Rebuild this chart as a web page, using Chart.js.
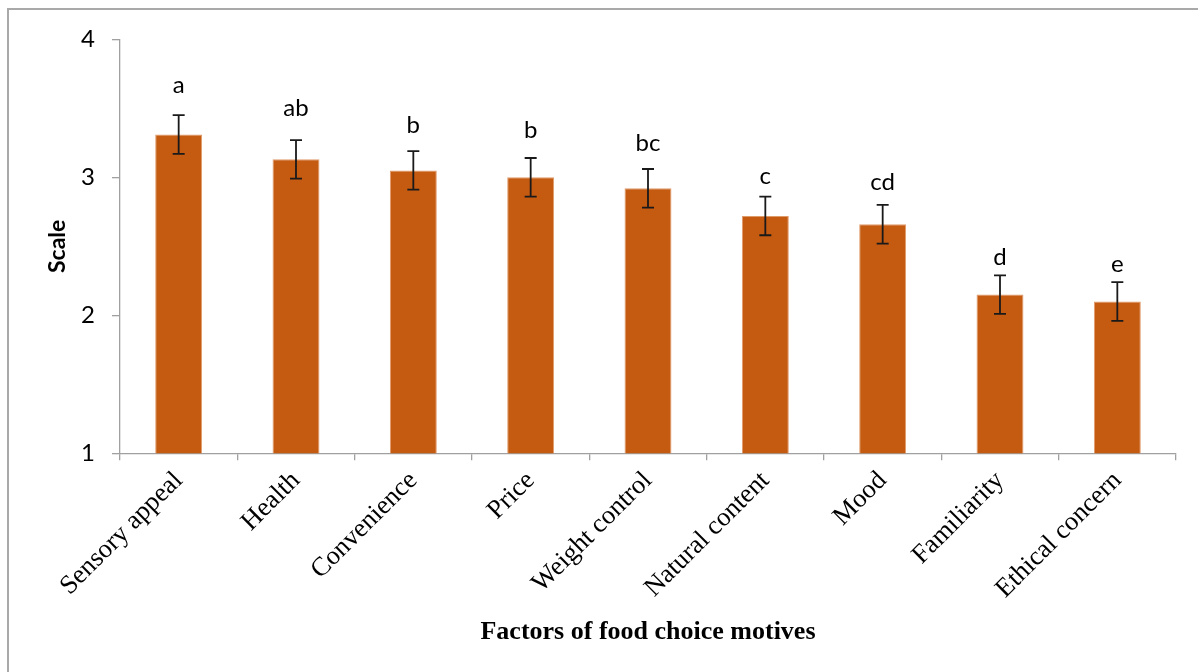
<!DOCTYPE html>
<html>
<head>
<meta charset="utf-8">
<title>Factors of food choice motives</title>
<script src="https://cdn.jsdelivr.net/npm/chart.js@4.4.1/dist/chart.umd.min.js"></script>
<style>
  html, body { margin: 0; padding: 0; background: #ffffff; }
  #wrap { position: relative; width: 1198px; height: 672px; }
</style>
</head>
<body>
<div id="wrap"><canvas id="motives" width="1198" height="672"></canvas></div>
<script>
// Food choice motive factors and their mean scale scores
const categories = ['Sensory appeal', 'Health', 'Convenience', 'Price', 'Weight control',
                    'Natural content', 'Mood', 'Familiarity', 'Ethical concern'];
const meanScores = [3.31, 3.13, 3.05, 3.00, 2.92, 2.72, 2.66, 2.15, 2.10];
const errorMargins = [0.14, 0.14, 0.14, 0.14, 0.14, 0.14, 0.14, 0.14, 0.14];
const groupLetters = ['a', 'ab', 'b', 'b', 'bc', 'c', 'cd', 'd', 'e'];
const yTicks = [1, 2, 3, 4];

const BAR_COLOR = '#c55a11';
const AXIS_COLOR = '#a0a0a0';

// Grey frame along the left and top edges
const framePlugin = {
  id: 'frame',
  beforeDraw(chart) {
    const ctx = chart.ctx;
    ctx.save();
    ctx.strokeStyle = '#a9a9a9';
    ctx.lineWidth = 2;
    ctx.beginPath();
    ctx.moveTo(8, chart.height);
    ctx.lineTo(8, 9);
    ctx.lineTo(chart.width, 9);
    ctx.stroke();
    ctx.restore();
  }
};

// Error bars with caps, plus significance letters above them
const errorBarPlugin = {
  id: 'errorBars',
  afterDatasetsDraw(chart, args, opts) {
    const ctx = chart.ctx;
    const y = chart.scales.y;
    const meta = chart.getDatasetMeta(0);
    ctx.save();
    meta.data.forEach((bar, i) => {
      const v = meanScores[i];
      const e = errorMargins[i];
      const top = y.getPixelForValue(v + e);
      const bot = y.getPixelForValue(v - e);
      const half = opts.capWidth / 2;
      ctx.strokeStyle = '#1a1a1a';
      ctx.lineWidth = 1.8;
      ctx.beginPath();
      ctx.moveTo(bar.x, top); ctx.lineTo(bar.x, bot);
      ctx.moveTo(bar.x - half, top); ctx.lineTo(bar.x + half, top);
      ctx.moveTo(bar.x - half, bot); ctx.lineTo(bar.x + half, bot);
      ctx.stroke();

      ctx.fillStyle = '#000000';
      ctx.font = '24px Lato';
      ctx.textAlign = 'center';
      ctx.textBaseline = 'alphabetic';
      ctx.fillText(groupLetters[i], bar.x, top - opts.letterGap[i]);
    });
    ctx.restore();
  }
};

new Chart(document.getElementById('motives'), {
  type: 'bar',
  data: {
    labels: categories,
    datasets: [{
      data: meanScores,
      backgroundColor: BAR_COLOR,
      borderColor: '#e09a6a',
      borderWidth: 1,
      barPercentage: 0.4,
      categoryPercentage: 1.0
    }]
  },
  options: {
    responsive: false,
    animation: false,
    events: [],
    layout: { padding: { left: 0, right: 22, top: 39.3, bottom: 0 } },
    plugins: {
      legend: { display: false },
      tooltip: { enabled: false },
      errorBars: { capWidth: 12, letterGap: [22, 24, 18, 20, 18, 13, 15, 10, 10] }
    },
    scales: {
      x: {
        offset: true,
        grid: {
          offset: true,
          drawOnChartArea: false,
          drawTicks: true,
          tickLength: 7,
          color: AXIS_COLOR,
          lineWidth: 1.3
        },
        border: { display: true, color: AXIS_COLOR, width: 1.3 },
        ticks: {
          minRotation: 45,
          maxRotation: 45,
          autoSkip: false,
          padding: 5,
          color: '#000000',
          font: { family: '"Liberation Serif", "Times New Roman", serif', size: 26.5 }
        },
        title: {
          display: true,
          text: 'Factors of food choice motives',
          color: '#000000',
          font: { family: '"Liberation Serif", "Times New Roman", serif', size: 26, weight: 'bold' },
          padding: { top: 0, bottom: 24 }
        },
        afterFit(scale) { scale.height = 672 - 453.3; }
      },
      y: {
        min: 1,
        max: 4,
        afterBuildTicks(scale) { scale.ticks = yTicks.map(v => ({ value: v })); },
        grid: {
          drawOnChartArea: false,
          drawTicks: true,
          tickLength: 8,
          color: AXIS_COLOR,
          lineWidth: 1.3
        },
        border: { display: true, color: AXIS_COLOR, width: 1.3 },
        ticks: {
          padding: 17,
          color: '#000000',
          font: { family: 'Lato', size: 24 }
        },
        title: {
          display: true,
          text: 'Scale',
          color: '#000000',
          font: { family: 'Lato', size: 23, weight: 'bold' },
          padding: { top: 44, bottom: 0 }
        },
        afterFit(scale) { scale.width = 120; }
      }
    }
  },
  plugins: [framePlugin, errorBarPlugin]
});
</script>
</body>
</html>
